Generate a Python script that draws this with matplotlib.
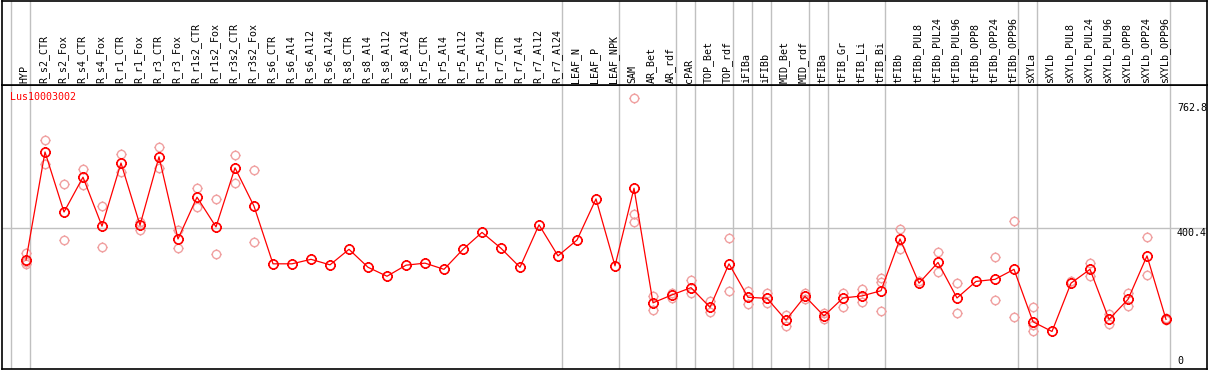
import numpy as np
import matplotlib
matplotlib.use("Agg")
import matplotlib.pyplot as plt
from matplotlib.path import Path
import matplotlib.transforms as mtransforms

# Data
gene = "Lus10003002"
categories = [
    "HYP", "R_s2_CTR", "R_s2_Fox", "R_s4_CTR", "R_s4_Fox", "R_r1_CTR", "R_r1_Fox",
    "R_r3_CTR", "R_r3_Fox", "R_r1s2_CTR", "R_r1s2_Fox", "R_r3s2_CTR", "R_r3s2_Fox",
    "R_s6_CTR", "R_s6_Al4", "R_s6_Al12", "R_s6_Al24", "R_s8_CTR", "R_s8_Al4",
    "R_s8_Al12", "R_s8_Al24", "R_r5_CTR", "R_r5_Al4", "R_r5_Al12", "R_r5_Al24",
    "R_r7_CTR", "R_r7_Al4", "R_r7_Al12", "R_r7_Al24", "LEAF_N", "LEAF_P", "LEAF_NPK",
    "SAM", "AR_Bet", "AR_rdf", "cPAR", "TOP_Bet", "TOP_rdf", "iFIBa", "iFIBb",
    "MID_Bet", "MID_rdf", "tFIBa", "tFIB_Gr", "tFIB_Li", "tFIB_Bi", "tFIBb",
    "tFIBb_PUL8", "tFIBb_PUL24", "tFIBb_PUL96", "tFIBb_OPP8", "tFIBb_OPP24",
    "tFIBb_OPP96", "sXYLa", "sXYLb", "sXYLb_PUL8", "sXYLb_PUL24", "sXYLb_PUL96",
    "sXYLb_OPP8", "sXYLb_OPP24", "sXYLb_OPP96",
]
means = [
    307, 620, 446, 547, 405, 588, 408, 606, 368, 489, 403, 574, 463,
    296, 296, 309, 293, 338, 286, 260, 292, 298, 280, 338, 387, 341, 286, 409, 319,
    365, 484, 290, 515, 183, 206, 227, 170, 296, 199, 196, 133, 202, 145, 197, 203,
    218, 368, 240, 300, 197, 245, 251, 280, 128, 100, 240, 280, 135, 193, 319, 135,
]
replicates = [
    [328, 302, 295], [655, 585], [527, 364], [571, 523], [463, 345], [614, 563],
    [418, 395], [635, 574], [394, 341], [516, 462], [483, 325], [612, 531], [567, 359],
    [], [], [], [], [], [], [], [], [], [], [], [], [], [], [], [], [], [], [],
    [776, 440, 418], [202, 161], [212, 196], [249, 211], [187, 157], [370, 217],
    [218, 181], [211, 182], [147, 116], [211, 195], [154, 135], [212, 172],
    [223, 186], [256, 243, 159], [396, 340], [247], [329, 272], [240, 153], [],
    [315, 191], [419, 142], [170, 119, 101], [], [247], [299, 262], [150, 121],
    [212, 175], [373, 263], [138, 132],
]
group_ends = [-1, 0, 28, 31, 34, 35, 37, 38, 39, 41, 42, 45, 52, 53, 60]
ytick_vals = [0, 400.4, 762.8]

# circle marker with tiny ticks around it
circ = Path.unit_circle()
ticks = []
for dx, dy in [(1, 0), (-1, 0), (0, 1), (0, -1)]:
    ticks.append(Path([(dx * 1.0, dy * 1.0), (dx * 1.2, dy * 1.2)],
                      [Path.MOVETO, Path.LINETO]))
tick_circle = Path.make_compound_path(circ, *ticks)

W, H = 1209, 370
fig = plt.figure(figsize=(W / 100, H / 100), dpi=100)
x0, x1 = 2 / W, 1207 / W
top_px = 85
ax = fig.add_axes([x0, 1 - 369 / H, x1 - x0, (369 - top_px) / H])
axl = fig.add_axes([x0, 1 - top_px / H, x1 - x0, (top_px - 0.5) / H])

x = np.arange(len(categories))
xlim = (-24 / 19, (1207 - 26) / 19)

for a in (ax, axl):
    a.set_xlim(*xlim)
    a.set_xticks([])
    a.set_yticks([])
    for s in a.spines.values():
        s.set_color("black")
        s.set_linewidth(1.2)
    for g in group_ends:
        a.axvline(g + 0.22, color="#c0c0c0", lw=1.0, zorder=0)

axl.set_ylim(0, 1)
for i, c in enumerate(categories):
    axl.text(i - 0.08, 0.025, c, rotation=90, ha="center", va="bottom",
             family="DejaVu Sans Mono", fontsize=7.2, color="black")

ax.set_ylim(-8.7, 814)
ax.axhline(400.4, color="#c0c0c0", lw=1.0, zorder=0)

# replicates
rx = [i for i, r in enumerate(replicates) for _ in r]
ry = [v for r in replicates for v in r]
ax.plot(rx, ry, linestyle="none", marker=tick_circle, markersize=7.2,
        markerfacecolor="none", markeredgecolor="#f0a0a0", markeredgewidth=1.0, zorder=2)

# means
ax.plot(x, means, color="red", lw=0.9, marker=tick_circle, markersize=7.8,
        markerfacecolor="none", markeredgecolor="red", markeredgewidth=1.2, zorder=3)

ax.text(8 / 1205, 1 - 12 / 284, gene, transform=ax.transAxes, color="red",
        family="DejaVu Sans Mono", fontsize=7.2, ha="left", va="center")

trans = mtransforms.blended_transform_factory(ax.transAxes, ax.transData)
for v in ytick_vals:
    ax.text(1175 / 1205, v, f"{v:g}", transform=trans, ha="left",
            va="bottom" if v == 0 else "top", family="DejaVu Sans Mono",
            fontsize=7.2, color="black")

fig.savefig("out.png", dpi=100)
